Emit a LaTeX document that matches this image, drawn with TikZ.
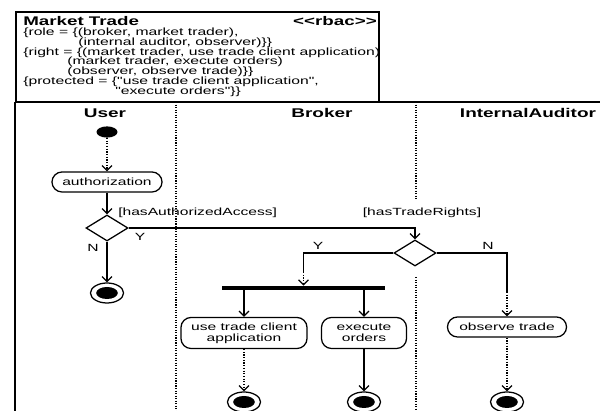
\documentclass[tikz,border=0pt]{standalone}
\usepackage{fontspec}
\newfontfamily\umlfont[FakeStretch=1.5,Ligatures=TeXOff]{Liberation Sans}
\usetikzlibrary{shapes.geometric,arrows.meta}

\begin{document}
\begin{tikzpicture}[x=0.025cm,y=-0.025cm,font=\umlfont\fontsize{7.4}{7.8}\selectfont,
  >={Straight Barb[length=3.5pt,width=7pt]},
  flow/.style={line width=0.9pt},
  act_node/.style={draw,line width=0.9pt,rounded corners=0.25cm,minimum height=0.5cm,inner sep=1pt,align=center},
  dec_node/.style={diamond,draw,line width=0.9pt,minimum width=1.05cm,minimum height=0.65cm,inner sep=0},
  start_node/.style={ellipse,fill,minimum width=0.525cm,minimum height=0.28cm,inner sep=0},
  end_node/.style={ellipse,draw,line width=0.9pt,minimum width=0.825cm,minimum height=0.5cm,inner sep=0,
    path picture={\fill (path picture bounding box.center) ellipse (0.27cm and 0.15cm);}},
  fork_bar/.style={fill,minimum width=4.075cm,minimum height=0.1cm,inner sep=0},
  lane_label/.style={inner sep=0,font=\umlfont\bfseries\fontsize{9}{10}\selectfont},
  box_text/.style={anchor=base west,inner sep=0,font=\umlfont\fontsize{7.45}{8}\selectfont},
  guard_label/.style={inner sep=0}]
\useasboundingbox (0,0) rectangle (600,411);

% rbac note
\draw[line width=0.9pt] (16,12) rectangle (379,102);
\node[box_text,font=\umlfont\bfseries\fontsize{8.9}{10}\selectfont] (title) at (23,26) {Market Trade};
\node[box_text,anchor=base east,font=\umlfont\bfseries\fontsize{8.9}{10}\selectfont] (stereo) at (377,26) {<<rbac>>};
\node[box_text] (role1) at (23,36) {\{role = \{(broker, market trader),};
\node[box_text] (role2) at (78,46) {(internal auditor, observer)\}\}};
\node[box_text] (right1) at (23,56) {\{right = \{(market trader, use trade client application)};
\node[box_text] (right2) at (67,65) {(market trader, execute orders)};
\node[box_text] (right3) at (67,75) {(observer, observe trade)\}\}};
\node[box_text] (prot1) at (23,85) {\{protected = \{"use trade client application",};
\node[box_text] (prot2) at (115,95) {"execute orders"\}\}};

% swimlanes
\draw[line width=0.9pt] (15,102) -- (600,102);
\draw[line width=1.6pt] (15,102) -- (15,411);
\draw[densely dotted,line width=0.8pt] (176,102) -- (176,411);
\draw[densely dotted,line width=0.8pt] (416,102) -- (416,199);
\draw[densely dotted,line width=0.8pt] (416,277) -- (416,411);
\node[lane_label] (user) at (105,113) {User};
\node[lane_label] (broker) at (322,113) {Broker};
\node[lane_label] (auditor) at (528,113) {InternalAuditor};

% activities
\node[start_node] (start) at (107,132) {};
\node[act_node,minimum width=2.75cm] (auth) at (107,182) {authorization};
\node[dec_node] (d1) at (107,228) {};
\node[end_node] (end1) at (107,293) {};
\node[dec_node] (d2) at (415,253) {};
\node[fork_bar] (fork) at (303.5,288) {};
\node[act_node,minimum width=3.15cm,minimum height=0.775cm] (usetrade) at (244,333) {use trade client\\application};
\node[act_node,minimum width=2.125cm,minimum height=0.775cm] (exec) at (364,333) {execute\\orders};
\node[act_node,minimum width=2.975cm] (observe) at (507,327) {observe trade};
\node[end_node] (end2) at (244,402) {};
\node[end_node] (end3) at (364,402) {};
\node[end_node] (end4) at (507,402) {};
\coordinate (forkin) at (303.5,272);
\coordinate (obsin) at (507,292);

% guards
\node[guard_label,anchor=west] (g1) at (118,213) {[hasAuthorizedAccess]};
\node[guard_label] (g2) at (422,213) {[hasTradeRights]};
\node[guard_label] (y1) at (140,237) {Y};
\node[guard_label] (n1) at (93,248) {N};
\node[guard_label] (y2) at (318,246) {Y};
\node[guard_label] (n2) at (488,246) {N};

% flows
\draw[flow,densely dotted,->] (start) -- (auth);
\draw[flow,->] (auth) -- (d1);
\draw[flow,->] (d1) -- (end1);
\draw[flow,->] (d1.east) -| (d2.north);
\draw[flow] (d2.west) -| (forkin);
\draw[flow,densely dotted,->] (forkin) -- (fork);
\draw[flow] (d2.east) -| (obsin);
\draw[flow,densely dotted,->] (obsin) -- (observe);
\draw[flow,->] (fork.south -| usetrade.north) -- (usetrade);
\draw[flow,->] (fork.south -| exec.north) -- (exec);
\draw[flow,densely dotted,->] (usetrade) -- (end2);
\draw[flow,->] (exec) -- (end3);
\draw[flow,densely dotted,->] (observe) -- (end4);

\end{tikzpicture}
\end{document}
